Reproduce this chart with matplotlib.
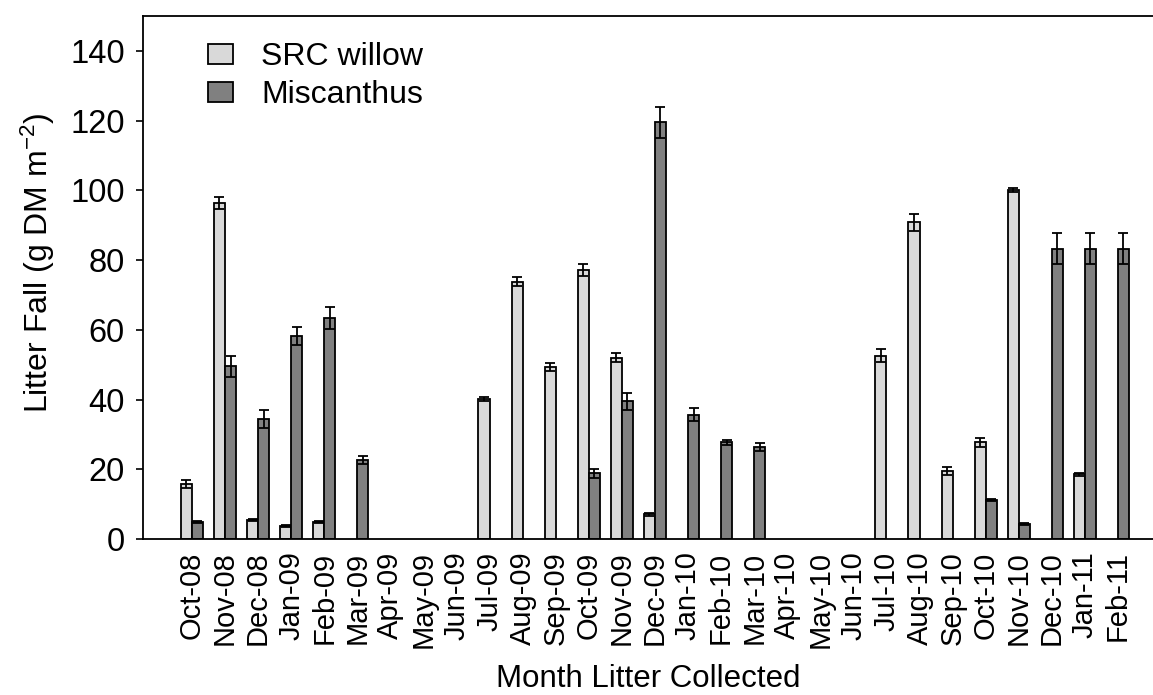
import numpy as np
import matplotlib
matplotlib.use("Agg")
import matplotlib.pyplot as plt
from matplotlib.patches import Patch

plt.rcParams['font.family'] = ['Liberation Sans', 'DejaVu Sans']
plt.rcParams['mathtext.fontset'] = 'custom'
plt.rcParams['mathtext.rm'] = 'Liberation Sans'
plt.rcParams['mathtext.default'] = 'regular'

nan = np.nan

months = ['Oct-08', 'Nov-08', 'Dec-08', 'Jan-09', 'Feb-09', 'Mar-09', 'Apr-09',
          'May-09', 'Jun-09', 'Jul-09', 'Aug-09', 'Sep-09', 'Oct-09', 'Nov-09',
          'Dec-09', 'Jan-10', 'Feb-10', 'Mar-10', 'Apr-10', 'May-10', 'Jun-10',
          'Jul-10', 'Aug-10', 'Sep-10', 'Oct-10', 'Nov-10', 'Dec-10', 'Jan-11',
          'Feb-11']

# litter fall, g DM m-2 (nan = not collected / nothing)
willow = [15.7, 96.4, 5.4, 3.8, 4.9, nan, nan, nan, nan, 40.2, 73.8, 49.4, 77.1,
          52.0, 7.1, nan, nan, nan, nan, nan, nan, 52.6, 90.8, 19.5, 27.7, 100.2,
          nan, 18.5, nan]
willow_err = [1.2, 1.8, 0.3, 0.3, 0.3, nan, nan, nan, nan, 0.6, 1.2, 1.2, 1.7,
              1.2, 0.4, nan, nan, nan, nan, nan, nan, 1.8, 2.5, 1.2, 1.2, 0.6,
              nan, 0.5, nan]

miscanthus = [4.8, 49.5, 34.4, 58.2, 63.3, 22.6, nan, nan, nan, nan, nan, nan,
              18.8, 39.5, 119.5, 35.7, 27.7, 26.4, nan, nan, nan, nan, nan, nan,
              11.2, 4.4, 83.3, 83.3, 83.3]
miscanthus_err = [0.3, 3.0, 2.5, 2.5, 3.2, 1.2, nan, nan, nan, nan, nan, nan,
                  1.2, 2.5, 4.5, 1.9, 0.8, 1.2, nan, nan, nan, nan, nan, nan,
                  0.4, 0.3, 4.4, 4.4, 4.4]

x = np.arange(len(months))
w = 0.335

fig = plt.figure(figsize=(11.53, 6.95), dpi=100)
ax = fig.add_axes([0.124, 0.2245, 0.876, 0.7525])

# bars
ax.bar(x - w / 2, willow, w, color='#d9d9d9', edgecolor='black', linewidth=1.3, zorder=2)
ax.bar(x + w / 2, miscanthus, w, color='#808080', edgecolor='black', linewidth=1.3, zorder=2)

# error bars
ax.errorbar(x - w / 2, willow, yerr=willow_err, fmt='none', ecolor='black',
            elinewidth=1.3, capsize=3.6, capthick=1.3, zorder=3)
ax.errorbar(x + w / 2, miscanthus, yerr=miscanthus_err, fmt='none', ecolor='black',
            elinewidth=1.3, capsize=3.6, capthick=1.3, zorder=3)

ax.set_xlim(-1.48, 29.06)
ax.set_ylim(0, 150)
ax.set_yticks(np.arange(0, 141, 20))
ax.set_xticks(x)
ax.set_xticklabels(months, rotation=90, fontsize=21)
ax.tick_params(axis='x', length=0, pad=9)
ax.tick_params(axis='y', direction='out', length=5, width=1.2, labelsize=23.5, pad=8)

ax.spines['right'].set_visible(False)
for s in ['left', 'top', 'bottom']:
    ax.spines[s].set_linewidth(1.3)

ax.set_ylabel('Litter Fall (g DM m$^{-2}$)', fontsize=23)
ax.yaxis.set_label_coords(-0.085, 0.528)
ax.set_xlabel('Month Litter Collected', fontsize=22.5, labelpad=11)

handles = [Patch(facecolor='#d9d9d9', edgecolor='black', linewidth=1.3),
           Patch(facecolor='#808080', edgecolor='black', linewidth=1.3)]
ax.legend(handles, ['SRC willow', 'Miscanthus'], loc='upper left',
          bbox_to_anchor=(0.064, 0.95), frameon=False, fontsize=23,
          handlelength=0.78, handleheight=0.56, handletextpad=0.9,
          labelspacing=0.25, borderpad=0, borderaxespad=0)

fig.savefig('out.png', dpi=100)
